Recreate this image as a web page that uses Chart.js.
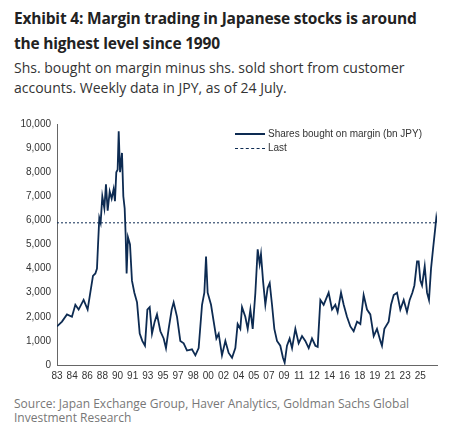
<!DOCTYPE html>
<html lang="en">
<head>
<meta charset="UTF-8">
<title>Exhibit 4</title>
<script src="https://cdn.jsdelivr.net/npm/chart.js@4.4.0/dist/chart.umd.min.js"></script>
<style>
  body { margin: 0; width: 452px; height: 429px; background: #fff; font-family: "Open Sans", "Noto Sans", sans-serif; position: relative; overflow: hidden; }
  #title { position: absolute; left: 14px; top: 6px; font-size: 15.5px; letter-spacing: -0.2px; white-space: nowrap; font-weight: bold; color: #222; line-height: 25px; }
  #sub { position: absolute; left: 14px; top: 58px; font-size: 14px; white-space: nowrap; color: #333; line-height: 20px; }
  #wrap { position: absolute; left: 0; top: 112px; width: 452px; height: 275px; }
  #legend { position: absolute; left: 235px; top: 127px; font: 10px "Liberation Sans", Arial, sans-serif; color: #333; line-height: 14px; }
  #legend .ln { display: inline-block; width: 30px; vertical-align: middle; margin-right: 3px; }
  #src { position: absolute; left: 14px; top: 397px; font-size: 12px; color: #777; line-height: 14px; }
</style>
</head>
<body>
<div id="title">Exhibit 4: Margin trading in Japanese stocks is around<br>the highest level since 1990</div>
<div id="sub">Shs. bought on margin minus shs. sold short from customer<br>accounts. Weekly data in JPY, as of 24 July.</div>
<div id="wrap"><canvas id="chart"></canvas></div>
<div id="legend">
  <div><span class="ln" style="border-top:2px solid #0d2b52"></span>Shares bought on margin (bn JPY)</div>
  <div><span class="ln" style="border-top:1px dashed #0d2b52"></span>Last</div>
</div>
<div id="src">Source: Japan Exchange Group, Haver Analytics, Goldman Sachs Global<br>Investment Research</div>
<script>
const years = [1983.00,1983.56,1984.12,1984.68,1985.06,1985.43,1985.99,1986.44,1986.74,1987.04,1987.31,1987.49,1987.61,1987.75,1987.90,
  1988.09,1988.32,1988.50,1988.69,1988.92,1989.14,1989.36,1989.51,1989.66,1989.81,1989.93,1990.08,1990.30,1990.45,1990.60,1990.71,1990.82,1990.97,
  1991.20,1991.42,1991.69,1991.99,1992.29,1992.58,1992.88,1993.15,1993.41,1993.67,1993.97,1994.23,1994.61,1994.98,1995.24,1995.54,1995.88,
  1996.10,1996.48,1996.85,1997.23,1997.60,1998.16,1998.54,1998.91,1999.29,1999.55,1999.74,1999.92,2000.30,2000.60,2000.90,2001.16,2001.53,
  2001.91,2002.28,2002.66,2003.03,2003.29,2003.59,2003.78,2004.15,2004.42,2004.72,2004.98,2005.28,2005.54,2005.76,2005.91,2006.14,2006.40,
  2006.66,2006.89,2007.15,2007.41,2007.71,2008.08,2008.38,2008.57,2008.83,2009.13,2009.40,2009.77,2010.14,2010.52,2010.89,2011.27,2011.64,
  2012.02,2012.28,2012.58,2012.95,2013.51,2013.89,2014.26,2014.52,2014.90,2015.20,2015.57,2015.95,2016.32,2016.70,2017.07,2017.44,2017.82,
  2018.19,2018.57,2018.94,2019.32,2019.50,2019.77,2020.25,2020.52,2020.82,2021.19,2021.56,2021.94,2022.31,2022.61,2022.91,2023.14,2023.44,
  2023.62,2023.81,2024.00,2024.30,2024.56,2024.78,2025.01,2025.23,2025.49,2025.60,2025.68];
const margin = [1600,1800,2100,2000,2500,2300,2700,2300,3000,3700,3800,4000,5000,6100,5900,
  7000,6500,7500,6400,7200,6900,7300,6800,8000,8100,9700,8000,8800,7000,6500,5400,3800,5300,
  5000,3500,3000,2600,1300,1000,800,2300,2400,1300,1800,2100,1400,1100,700,1500,2300,
  2600,2000,1000,900,600,650,400,700,2500,3000,4500,3000,2500,1800,1100,1300,400,
  1000,500,300,700,1700,1500,2400,2000,1500,2300,1500,3000,4800,4200,4600,3500,2500,
  3200,3400,2500,1500,1000,800,300,100,800,1100,700,1500,900,1200,1000,700,1100,
  800,750,2700,2500,3000,2300,2500,2200,3000,2500,2000,1600,1400,1800,1700,2900,2300,
  2100,1200,1500,1000,800,1500,1800,2500,2900,3000,2300,2700,2200,2700,3000,3300,4300,
  4300,3500,3300,4100,3000,2700,4000,4800,5700,6100,5900];
const lastValue = 5900;
const tickLabels = ['83','84','86','88','90','91','93','95','97','98','00','02','04','05','07','09','11','12','14','16','18','19','21','23','25'];
const tickStart = 1983, tickStep = 1.7;
const xMin = 1983, xMax = 2025.68;

const color = '#0d2b52';
new Chart(document.getElementById('chart'), {
  type: 'line',
  data: {
    datasets: [
      { data: years.map((y, i) => ({ x: y, y: margin[i] })), borderColor: color, borderWidth: 1.8, pointRadius: 0, tension: 0 },
      { data: [{ x: xMin, y: lastValue }, { x: xMax, y: lastValue }], borderColor: color, borderWidth: 1, borderDash: [2, 2], pointRadius: 0 }
    ]
  },
  options: {
    animation: false, responsive: true, maintainAspectRatio: false,
    layout: { padding: { top: 8, right: 15, bottom: 0 } },
    plugins: { legend: { display: false }, tooltip: { enabled: false } },
    scales: {
      x: {
        type: 'linear', min: xMin, max: xMax,
        grid: { display: false, drawTicks: false },
        border: { color: '#666' },
        afterBuildTicks: ax => { ax.ticks = tickLabels.map((l, i) => ({ value: tickStart + i * tickStep })); },
        ticks: { autoSkip: false, maxRotation: 0, padding: 5, color: '#333', font: { family: 'Liberation Sans', size: 10 },
          callback: (v, i) => tickLabels[i] }
      },
      y: {
        min: 0, max: 10000,
        afterFit: ax => { ax.width = 57; },
        grid: { display: false, drawTicks: false },
        border: { color: '#666' },
        ticks: { stepSize: 1000, padding: 6, color: '#333', font: { family: 'Liberation Sans', size: 10 },
          callback: v => v.toLocaleString('en-US') }
      }
    }
  }
});
</script>
</body>
</html>
